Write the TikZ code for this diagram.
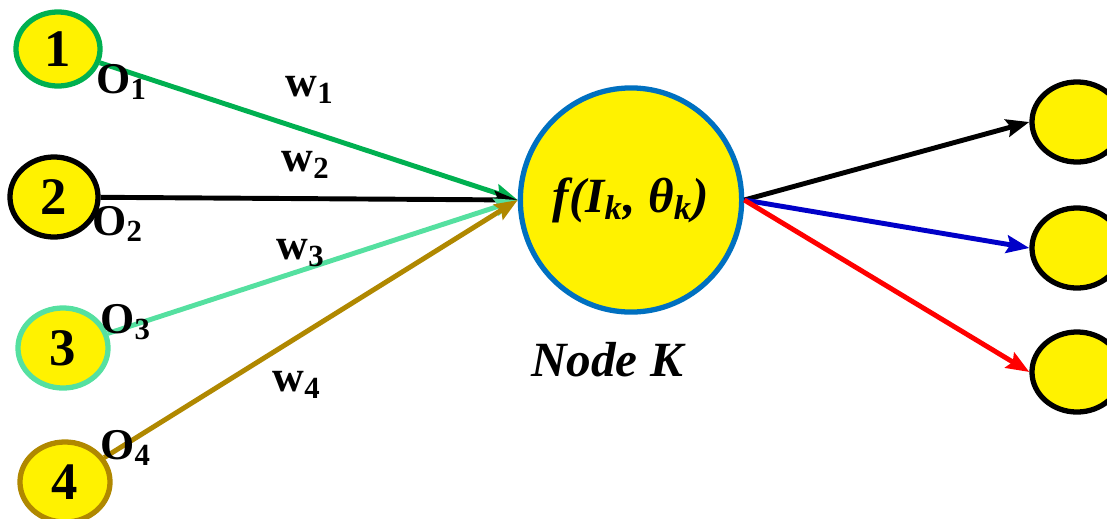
\documentclass[tikz,border=0pt]{standalone}
\usepackage{fontspec}
\setmainfont{Liberation Serif}
\usetikzlibrary{arrows.meta,shapes.geometric}
\definecolor{grn}{RGB}{0,176,80}
\definecolor{mint}{RGB}{85,224,160}
\definecolor{wbrown}{RGB}{176,136,0}
\definecolor{kblue}{RGB}{0,112,192}
\definecolor{dblue}{RGB}{0,0,200}
\tikzset{
  unit/.style  ={ellipse,draw,fill=yellow,line width=1.5pt,inner sep=0pt,
                 minimum width=0.9cm,minimum height=0.8cm,
                 font=\fontsize{15}{17}\selectfont\bfseries},
  knode/.style ={unit,draw=kblue,minimum width=2.16cm,minimum height=2.24cm,
                 font=\fontsize{14}{16}\selectfont\bfseries\itshape},
  wire/.style  ={line width=1.4pt,-{Stealth[length=6.5pt,width=5pt,inset=1pt]}},
  lbl/.style   ={inner sep=0pt,font=\fontsize{12.5}{14}\selectfont\bfseries},
}

\begin{document}
\begin{tikzpicture}[x=0.01cm,y=-0.01cm]
  \useasboundingbox (0,0) rectangle (1107,518);
  \clip (0,0) rectangle (1107,518);
  % inputs
  \node[unit,draw=grn,minimum width=0.84cm,minimum height=0.74cm] (n1) at (58,49) {1};
  \node[unit,minimum width=0.88cm] (n2) at (54,197) {2};
  \node[unit,draw=mint] (n3) at (63,348) {3};
  \node[unit,draw=wbrown] (n4) at (65,482) {4};
  \node[knode] (k) at (631,200) {f(I\textsubscript{k}, θ\textsubscript{k})};
  % outputs (cut by the right edge)
  \node[unit] (m1) at (1077,122) {};
  \node[unit] (m2) at (1077,248) {};
  \node[unit] (m3) at (1077,372) {};
  \draw[wire,grn] (n1) -- (k.west);
  \draw[wire,black] (n2) -- (k.west);
  \draw[wire,mint] (n3) -- (k.west);
  \draw[wire,wbrown] (n4) -- (k.west);
  \draw[wire,black] (k.east) -- (m1.west);
  \draw[wire,dblue] (k.east) -- (m2.west);
  \draw[wire,red] (k.east) -- (m3.west);
  \node[lbl] (o1) at (122,82) {O\textsubscript{1}};
  \node[lbl] (o2) at (118,224) {O\textsubscript{2}};
  \node[lbl] (o3) at (126,322) {O\textsubscript{3}};
  \node[lbl] (o4) at (126,448) {O\textsubscript{4}};
  \node[lbl] (w1) at (310,90) {w\textsubscript{1}};
  \node[lbl] (w2) at (306,165) {w\textsubscript{2}};
  \node[lbl] (w3) at (301,253) {w\textsubscript{3}};
  \node[lbl] (w4) at (297,385) {w\textsubscript{4}};
  \node[lbl,font=\fontsize{14}{16}\selectfont\bfseries\itshape] (kname) at (607,360) {Node K};
\end{tikzpicture}
\end{document}
